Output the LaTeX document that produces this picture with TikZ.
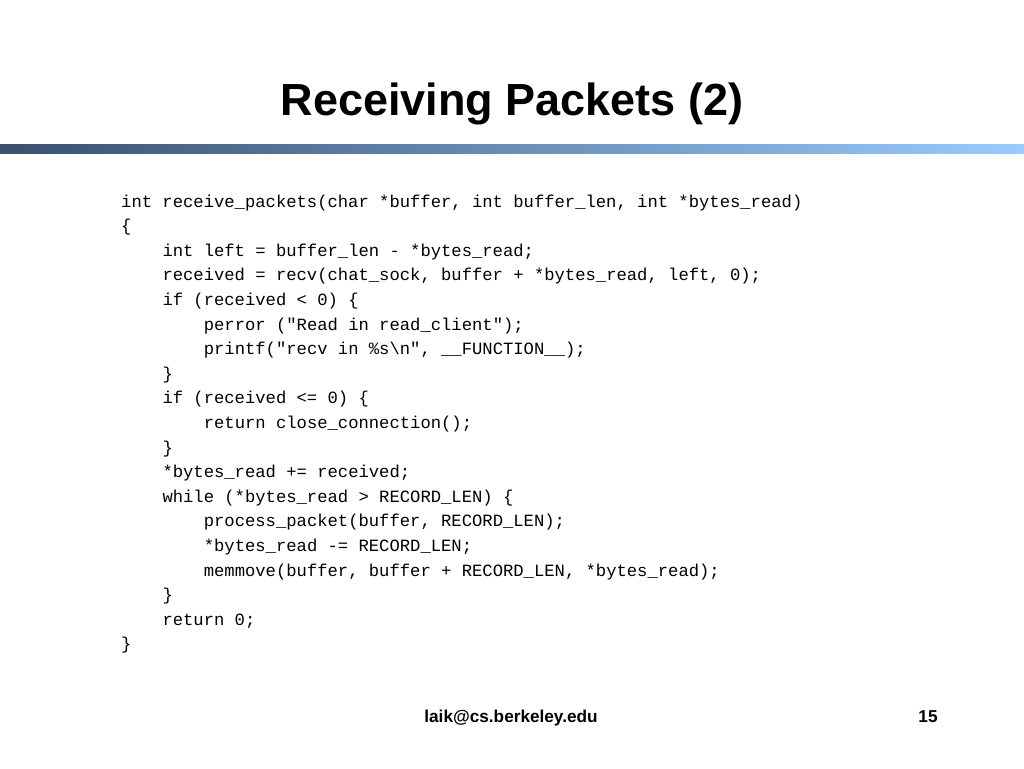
\documentclass[tikz,border=0pt]{standalone}
\usepackage{fontspec}
\setmainfont{Liberation Sans}
\setmonofont{Liberation Mono}
\begin{document}
\begin{tikzpicture}[x=1pt,y=-1pt,
  code/.style={anchor=base west,inner sep=0pt,font=\ttfamily\fontsize{17.2}{20}\selectfont},
  foot/.style={anchor=base,inner sep=0pt,font=\bfseries\fontsize{17.2}{19}\selectfont}]
\useasboundingbox (0,0) rectangle (1024,768);
\shade[left color={rgb,255:red,58;green,80;blue,110},right color={rgb,255:red,153;green,204;blue,255}] (0,144) rectangle (1024,153);
\node[anchor=base,inner sep=0pt,font=\bfseries\fontsize{45}{50}\selectfont] (title) at (512,115) {Receiving Packets (2)};
\foreach \ind/\txt [count=\i from 0] in {
  0/{int receive\_packets(char *buffer, int buffer\_len, int *bytes\_read)},
  0/{\{},
  1/{int left = buffer\_len - *bytes\_read;},
  1/{received = recv(chat\_sock, buffer + *bytes\_read, left, 0);},
  1/{if (received < 0) \{},
  2/{perror ("Read in read\_client");},
  2/{printf("recv in \%s\textbackslash n", \_\_FUNCTION\_\_);},
  1/{\}},
  1/{if (received <= 0) \{},
  2/{return close\_connection();},
  1/{\}},
  1/{*bytes\_read += received;},
  1/{while (*bytes\_read > RECORD\_LEN) \{},
  2/{process\_packet(buffer, RECORD\_LEN);},
  2/{*bytes\_read -= RECORD\_LEN;},
  2/{memmove(buffer, buffer + RECORD\_LEN, *bytes\_read);},
  1/{\}},
  1/{return 0;},
  0/{\}}}
  \node[code] (line\i) at (121+41.3*\ind,207+24.6*\i) {\txt};
\node[foot] (mail) at (511,722) {laik@cs.berkeley.edu};
\node[foot] (page) at (928,722) {15};
\end{tikzpicture}
\end{document}
